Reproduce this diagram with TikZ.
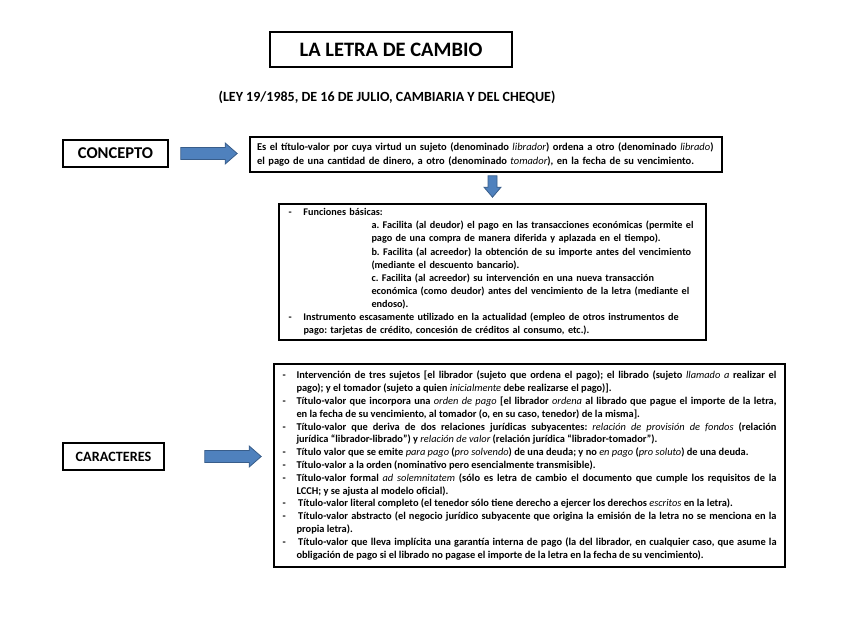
\documentclass[tikz,border=0pt]{standalone}
\usepackage{fontspec}
\setmainfont{Carlito}
\usetikzlibrary{calc}
\frenchspacing
\definecolor{arrowfill}{HTML}{4F81BD}
\definecolor{arrowedge}{HTML}{385D8A}
\tikzset{
  box/.style={draw=black, line width=1.6pt, inner sep=0pt, align=center, fill=white},
  textbox/.style={draw=black, line width=1.6pt, inner ysep=0pt, fill=white},
  blockarr/.style={fill=arrowfill, draw=arrowedge, line width=0.8pt, line join=miter},
}
\newcommand\harrow[2]{\path[blockarr] let \p1=(#1), \p2=(#2) in
  (\x1,{\y1+6pt}) -- ({\x2-12pt},{\y1+6pt}) -- ({\x2-12pt},{\y1+10.5pt}) -- (\x2,\y1)
  -- ({\x2-12pt},{\y1-10.5pt}) -- ({\x2-12pt},{\y1-6pt}) -- (\x1,{\y1-6pt}) -- cycle;}
\newcommand\varrow[2]{\path[blockarr] let \p1=(#1), \p2=(#2) in
  ({\x1-4.5pt},\y1) -- ({\x1+4.5pt},\y1) -- ({\x1+4.5pt},{\y2+10pt}) -- ({\x1+8.5pt},{\y2+10pt})
  -- (\x1,\y2) -- ({\x1-8.5pt},{\y2+10pt}) -- ({\x1-4.5pt},{\y2+10pt}) -- cycle;}
\newcommand\bul[1]{\noindent\hangindent=#1\hangafter=1\makebox[#1][l]{-}}
\newcommand\itl[1]{{\mdseries\itshape #1}}
\begin{document}
\begin{tikzpicture}[x=1pt,y=-1pt]
\fill[white] (0,0) rectangle (848,636);
\useasboundingbox (0,0) rectangle (848,636);

\node[box, minimum width=242, minimum height=35] (title) at (391,49.5)
  {\fontsize{20.5}{24}\selectfont\bfseries LA LETRA DE CAMBIO};
\node[inner sep=0pt] (ley) at (387,97)
  {\fontsize{14}{16}\selectfont\bfseries (LEY 19/1985, DE 16 DE JULIO, CAMBIARIA Y DEL CHEQUE)};

\node[box, minimum width=105, minimum height=27] (concepto) at (115.5,153.5)
  {\fontsize{16.5}{18}\selectfont\bfseries CONCEPTO};
\node[box, minimum width=101, minimum height=27] (caract) at (113.5,456.5)
  {\fontsize{14.2}{18}\selectfont\bfseries CARACTERES};

\node[textbox, text width=458, inner xsep=7, minimum height=35, align=left,
      font=\fontsize{10.5}{13.5}\selectfont\bfseries] (def) at (486,154.5)
  {Es el título-valor por cuya virtud un sujeto (denominado \itl{librador}) ordena a otro (denominado \itl{librado})\\
   el pago de una cantidad de dinero, a otro (denominado \itl{tomador}), en la fecha de su vencimiento.};

\node[textbox, text width=408, inner xsep=9.5, minimum height=136, align=left,
      font=\fontsize{10.2}{13.1}\selectfont\bfseries] (func) at (492.5,272)
  {\bul{15pt}Funciones básicas:\par
   {\leftskip=83pt
   \noindent a. Facilita (al deudor) el pago en las transacciones económicas (permite el\newline
   pago de una compra de manera diferida y aplazada en el tiempo).\par
   \noindent b. Facilita (al acreedor) la obtención de su importe antes del vencimiento\newline
   (mediante el descuento bancario).\par
   \noindent c. Facilita (al acreedor) su intervención en una nueva transacción\newline
   económica (como deudor) antes del vencimiento de la letra (mediante el\newline
   endoso).\par}
   \bul{15pt}Instrumento escasamente utilizado en la actualidad (empleo de otros instrumentos de\newline
   pago: tarjetas de crédito, concesión de créditos al consumo, etc.).\par};

\node[textbox, text width=494, inner xsep=8.5, minimum height=203, align=justify,
      font=\fontsize{10.4}{12.8}\selectfont\bfseries] (carbox) at (529.5,465.5)
  {\bul{14pt}Intervención de tres sujetos [el librador (sujeto que ordena el pago); el librado (sujeto \itl{llamado a} realizar el\linebreak
   pago); y el tomador (sujeto a quien \itl{inicialmente} debe realizarse el pago)].\par
   \bul{14pt}Título-valor que incorpora una \itl{orden de pago} [el librador \itl{ordena} al librado que pague el importe de la letra,\linebreak
   en la fecha de su vencimiento, al tomador (o, en su caso, tenedor) de la misma].\par
   \bul{14pt}Título-valor que deriva de dos relaciones jurídicas subyacentes: \itl{relación de provisión de fondos} (relación\linebreak
   jurídica “librador-librado”) y \itl{relación de valor} (relación jurídica “librador-tomador”).\par
   \bul{14pt}Título valor que se emite \itl{para pago} (\itl{pro solvendo}) de una deuda; y no \itl{en pago} (\itl{pro soluto}) de una deuda.\par
   \bul{14pt}Título-valor a la orden (nominativo pero esencialmente transmisible).\par
   \bul{14pt}Título-valor formal \itl{ad solemnitatem} (sólo es letra de cambio el documento que cumple los requisitos de la\linebreak
   LCCH; y se ajusta al modelo oficial).\par
   \bul{14pt}\,Título-valor literal completo (el tenedor sólo tiene derecho a ejercer los derechos \itl{escritos} en la letra).\par
   \bul{14pt}\,Título-valor abstracto (el negocio jurídico subyacente que origina la emisión de la letra no se menciona en la\linebreak
   propia letra).\par
   \bul{14pt}\,Título-valor que lleva implícita una garantía interna de pago (la del librador, en cualquier caso, que asume la\linebreak
   obligación de pago si el librado no pagase el importe de la letra en la fecha de su vencimiento).\par};

\harrow{$(concepto.east)+(12,0)$}{$(def.west)+(-12,0)$}
\varrow{$(def.south -| func.north)+(0,3)$}{$(func.north)+(0,-6)$}
\harrow{$(caract.east)+(40,0)$}{$(carbox.west |- caract.east)+(-12,0)$}
\end{tikzpicture}
\end{document}
